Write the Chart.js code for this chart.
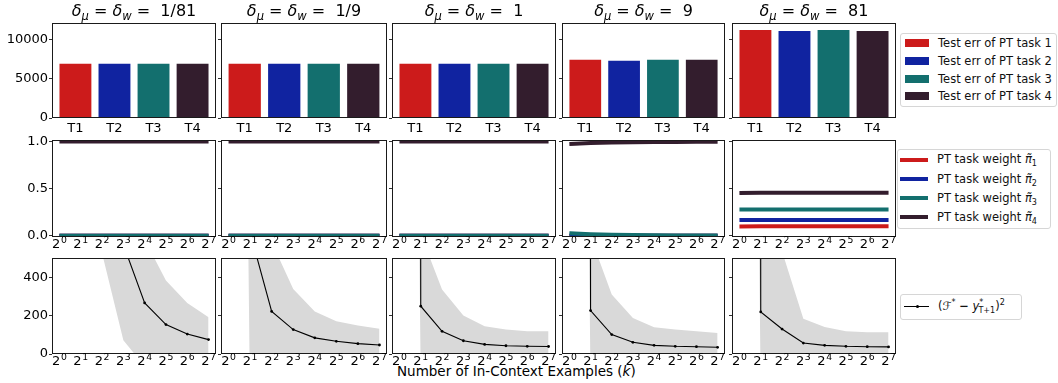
<!DOCTYPE html>
<html>
<head>
<meta charset="utf-8">
<script src="https://cdn.jsdelivr.net/npm/chart.js@4.4.0/dist/chart.umd.min.js"></script>
<style>
html,body{margin:0;padding:0;background:#fff;width:1058px;height:383px;overflow:hidden;font-family:"DejaVu Sans",sans-serif;color:#111;}
#wrap{position:relative;width:1058px;height:383px;}
#wrap canvas{position:absolute;}
.lg{position:absolute;background:rgba(255,255,255,0.85);border:1px solid #d6d6d6;border-radius:3px;}
.it{position:absolute;white-space:nowrap;line-height:14px;height:14px;}
.patch{position:absolute;height:8px;width:24px;}
.ln{position:absolute;height:4px;width:28px;}
sub,sup{font-size:70%;line-height:0;}
#xlabel{position:absolute;left:397px;top:363px;font-size:13.5px;line-height:16px;white-space:nowrap;color:#000;}
</style>
</head>
<body>
<div id="wrap">
  <div class="lg" style="left:900px;top:33px;width:155px;height:72px;font-size:11.5px;">
    <div class="patch" style="left:4px;top:5px;background:#CC1B1B"></div><div class="it" style="left:37px;top:2px">Test err of PT task 1</div>
    <div class="patch" style="left:4px;top:23px;background:#1023A0"></div><div class="it" style="left:37px;top:20px">Test err of PT task 2</div>
    <div class="patch" style="left:4px;top:40.5px;background:#136F6E"></div><div class="it" style="left:37px;top:37.5px">Test err of PT task 3</div>
    <div class="patch" style="left:4px;top:58px;background:#331D2D"></div><div class="it" style="left:37px;top:55px">Test err of PT task 4</div>
  </div>
  <div class="lg" style="left:897px;top:149px;width:152px;height:78px;font-size:11.5px;">
    <div class="ln" style="left:2px;top:7.5px;background:#CC1B1B"></div><div class="it" style="left:39px;top:2px">PT task weight <i>π̃</i><sub>1</sub></div>
    <div class="ln" style="left:2px;top:27px;background:#1023A0"></div><div class="it" style="left:39px;top:21.5px">PT task weight <i>π̃</i><sub>2</sub></div>
    <div class="ln" style="left:2px;top:46px;background:#136F6E"></div><div class="it" style="left:39px;top:40.5px">PT task weight <i>π̃</i><sub>3</sub></div>
    <div class="ln" style="left:2px;top:65px;background:#331D2D"></div><div class="it" style="left:39px;top:59.5px">PT task weight <i>π̃</i><sub>4</sub></div>
  </div>
  <div class="lg" style="left:900px;top:294px;width:120px;height:24px;font-size:11.5px;">
    <div style="position:absolute;left:3px;top:10.5px;width:25px;height:1px;background:#000"></div>
    <div style="position:absolute;left:14.5px;top:9.5px;width:3px;height:3px;border-radius:50%;background:#000"></div>
    <div class="it" style="left:37px;top:4px">(<i>ℱ</i><sup>*</sup> <b>−</b> <i>y</i><sup>*</sup><sub style="margin-left:-5px">T+1</sub>)<sup>2</sup></div>
  </div>
  <div id="xlabel">Number of In-Context Examples (<i>k</i>)</div>
</div>
<script>
// ---------------- data ----------------
const deltaLabels = ['1/81', '1/9', '1', '9', '81'];
const taskLabels = ['T1', 'T2', 'T3', 'T4'];
const kExponents = [0, 1, 2, 3, 4, 5, 6, 7];
const kTickBase = '2';
const kTickExps = ['0', '1', '2', '3', '4', '5', '6', '7'];
const errTicks = [0, 5000, 10000];
const weightTicks = [0, 0.5, 1];
const sqErrTicks = [0, 200, 400];

// row 1: test error of PT tasks (T1..T4)
const testErr_1_81 = [6870, 6870, 6870, 6870];
const testErr_1_9  = [6870, 6870, 6870, 6870];
const testErr_1    = [6870, 6870, 6870, 6870];
const testErr_9    = [7380, 7250, 7380, 7370];
const testErr_81   = [11180, 11050, 11180, 11050];

// row 2: PT task weights vs k
const wT1_1_81 = [0, 0, 0, 0, 0, 0, 0, 0];
const wT2_1_81 = [0, 0, 0, 0, 0, 0, 0, 0];
const wT3_1_81 = [0, 0, 0, 0, 0, 0, 0, 0];
const wT4_1_81 = [1, 1, 1, 1, 1, 1, 1, 1];
const wT1_1_9 = [0, 0, 0, 0, 0, 0, 0, 0];
const wT2_1_9 = [0, 0, 0, 0, 0, 0, 0, 0];
const wT3_1_9 = [0, 0, 0, 0, 0, 0, 0, 0];
const wT4_1_9 = [1, 1, 1, 1, 1, 1, 1, 1];
const wT1_1 = [0, 0, 0, 0, 0, 0, 0, 0];
const wT2_1 = [0, 0, 0, 0, 0, 0, 0, 0];
const wT3_1 = [0, 0, 0, 0, 0, 0, 0, 0];
const wT4_1 = [1, 1, 1, 1, 1, 1, 1, 1];
const wT1_9 = [0, 0, 0, 0, 0, 0, 0, 0];
const wT2_9 = [0, 0, 0, 0, 0, 0, 0, 0];
const wT3_9 = [0.027, 0.018, 0.012, 0.009, 0.007, 0.005, 0.004, 0.003];
const wT4_9 = [0.973, 0.982, 0.988, 0.991, 0.993, 0.995, 0.996, 0.997];
const wT3_9_lo = [0.012, 0.008, 0.005, 0.004, 0.003, 0.002, 0.002, 0.001];
const wT3_9_hi = [0.045, 0.030, 0.020, 0.015, 0.011, 0.008, 0.006, 0.005];
const wT4_9_lo = [0.955, 0.970, 0.980, 0.985, 0.989, 0.992, 0.994, 0.995];
const wT4_9_hi = [0.988, 0.992, 0.995, 0.996, 0.997, 0.998, 0.998, 0.999];
const wT1_81 = [0.100, 0.101, 0.101, 0.101, 0.101, 0.101, 0.101, 0.101];
const wT2_81 = [0.168, 0.168, 0.168, 0.168, 0.168, 0.168, 0.168, 0.168];
const wT3_81 = [0.278, 0.278, 0.278, 0.278, 0.278, 0.278, 0.278, 0.278];
const wT4_81 = [0.455, 0.457, 0.457, 0.457, 0.457, 0.457, 0.457, 0.457];
const wT4_81_lo = [0.440, 0.450, 0.454, 0.455, 0.456, 0.456, 0.456, 0.456];
const wT4_81_hi = [0.470, 0.464, 0.460, 0.459, 0.458, 0.458, 0.458, 0.458];

// row 3: (F* - y*_{T+1})^2 mean and band vs k
const sqMean_1_81  = [100000, 20000, 3000, 570, 266, 153, 104, 75];
const sqUpper_1_81 = [200000, 40000, 6000, 1070, 596, 383, 266, 191];
const sqLower_1_81 = [50000, 10000, 525, 71, -64, -77, -58, -41];
const sqMean_1_9  = [100000, 633, 222, 127, 84, 66, 54, 47];
const sqUpper_1_9 = [200000, 1500, 583, 339, 222, 170, 148, 132];
const sqLower_1_9 = [10000, -300, -140, -85, -55, -38, -40, -38];
const sqMean_1  = [100000, 249, 118, 69, 50, 43, 40, 39];
const sqUpper_1 = [200000, 624, 336, 200, 144, 127, 118, 118];
const sqLower_1 = [10000, -130, -100, -62, -44, -41, -38, -40];
const sqMean_9  = [100000, 226, 101, 61, 45, 40, 38, 35];
const sqUpper_9 = [200000, 611, 310, 188, 139, 127, 118, 110];
const sqLower_9 = [10000, -160, -108, -66, -49, -47, -42, -40];
const sqMean_81  = [100000, 219, 130, 57, 45, 40, 38, 37];
const sqUpper_81 = [200000, 700, 535, 184, 141, 118, 113, 113];
const sqLower_81 = [10000, -200, -150, -70, -50, -45, -40, -40];

// ---------------- tables built from the arrays ----------------
const testErrByDelta = [testErr_1_81, testErr_1_9, testErr_1, testErr_9, testErr_81];
const weightsByDelta = [
  [wT1_1_81, wT2_1_81, wT3_1_81, wT4_1_81],
  [wT1_1_9, wT2_1_9, wT3_1_9, wT4_1_9],
  [wT1_1, wT2_1, wT3_1, wT4_1],
  [wT1_9, wT2_9, wT3_9, wT4_9],
  [wT1_81, wT2_81, wT3_81, wT4_81]
];
// bands: [delta index, task index, lo, hi]
const weightBands = [
  [3, 2, wT3_9_lo, wT3_9_hi],
  [3, 3, wT4_9_lo, wT4_9_hi],
  [4, 3, wT4_81_lo, wT4_81_hi]
];
const sqByDelta = [
  [sqMean_1_81, sqUpper_1_81, sqLower_1_81],
  [sqMean_1_9, sqUpper_1_9, sqLower_1_9],
  [sqMean_1, sqUpper_1, sqLower_1],
  [sqMean_9, sqUpper_9, sqLower_9],
  [sqMean_81, sqUpper_81, sqLower_81]
];

// ---------------- styles / layout ----------------
const taskColors = ['#CC1B1B', '#1023A0', '#136F6E', '#331D2D'];
const taskBandColors = ['rgba(204,27,27,0.22)', 'rgba(16,35,160,0.22)', 'rgba(19,111,110,0.25)', 'rgba(51,29,45,0.25)'];
const colLefts = [52, 221, 392, 562, 732];
const colWidths = [164, 166, 164, 163, 164];
const rowTops = [23, 140, 258];
const rowHeights = [95, 97, 96];
const PAD_L = 50, PAD_T = 24, PAD_R = 6, PAD_B = 22;

Chart.defaults.font.family = '"DejaVu Sans", sans-serif';
Chart.defaults.color = '#000';

const wrap = document.getElementById('wrap');
function makeCanvas(r, c) {
  const cv = document.createElement('canvas');
  const w = colWidths[c] + PAD_L + PAD_R, h = rowHeights[r] + PAD_T + PAD_B;
  cv.width = w; cv.height = h;
  cv.style.left = (colLefts[c] - PAD_L) + 'px';
  cv.style.top = (rowTops[r] - PAD_T) + 'px';
  cv.style.width = w + 'px'; cv.style.height = h + 'px';
  wrap.appendChild(cv);
  return cv;
}

const framePlugin = {
  id: 'frame',
  afterDraw(chart) {
    const a = chart.chartArea, ctx = chart.ctx;
    ctx.save();
    ctx.strokeStyle = '#1a1a1a';
    ctx.lineWidth = 1;
    ctx.strokeRect(a.left + 0.5, a.top + 0.5, a.right - a.left - 1, a.bottom - a.top - 1);
    ctx.restore();
  }
};

// k-axis tick labels drawn as "2" with a raised exponent (like mathtext 2^n)
const kTickPlugin = {
  id: 'kTicks',
  afterDraw(chart) {
    const ctx = chart.ctx, xs = chart.scales.x, a = chart.chartArea;
    ctx.save();
    ctx.fillStyle = '#000'; ctx.textAlign = 'left'; ctx.textBaseline = 'alphabetic';
    kExponents.forEach((v, i) => {
      ctx.font = '13px "DejaVu Sans"';
      const wb = ctx.measureText(kTickBase).width;
      ctx.font = '9.3px "DejaVu Sans"';
      const we = ctx.measureText(kTickExps[i]).width;
      const x0 = xs.getPixelForValue(v) - (wb + we + 0.6) / 2;
      const y = a.bottom + 11;
      ctx.font = '13px "DejaVu Sans"';
      ctx.fillText(kTickBase, x0, y);
      ctx.font = '9.3px "DejaVu Sans"';
      ctx.fillText(kTickExps[i], x0 + wb + 0.6, y - 5.3);
    });
    ctx.restore();
  }
};

function titlePlugin(label) {
  return {
    id: 'mathTitle',
    afterDraw(chart) {
      const ctx = chart.ctx, a = chart.chartArea;
      const big = '16px "DejaVu Sans"', bigI = 'italic 16px "DejaVu Sans"', smI = 'italic 11.5px "DejaVu Sans"';
      const parts = [['δ', bigI, 0], ['μ', smI, 3.5], [' = ', big, 0], ['δ', bigI, 0], ['w', smI, 3.5], [' =  ' + label, big, 0]];
      ctx.save();
      let tot = 0;
      parts.forEach(p => { ctx.font = p[1]; tot += ctx.measureText(p[0]).width; });
      let x = (a.left + a.right) / 2 - tot / 2;
      const y = a.top - 7;
      ctx.fillStyle = '#000'; ctx.textAlign = 'left'; ctx.textBaseline = 'alphabetic';
      parts.forEach(p => { ctx.font = p[1]; ctx.fillText(p[0], x, y + p[2]); x += ctx.measureText(p[0]).width; });
      ctx.restore();
    }
  };
}

function yScale(c, min, max, ticks, fmt) {
  return {
    type: 'linear', min, max,
    afterBuildTicks: s => { s.ticks = ticks.map(v => ({ value: v })); },
    ticks: { display: c === 0, font: { size: 13 }, color: '#000', padding: 1, callback: v => fmt(v) },
    grid: { display: true, drawOnChartArea: false, drawTicks: true, tickLength: 3, color: '#333', lineWidth: 1 },
    border: { display: false },
    afterFit: s => { s.width = PAD_L; s.paddingTop = 0; s.paddingBottom = 0; }
  };
}
function kScale() {
  return {
    type: 'linear', min: -0.35, max: 7.35, offset: false,
    afterBuildTicks: s => { s.ticks = kExponents.map(v => ({ value: v })); },
    ticks: { display: false },
    grid: { display: false, drawTicks: false },
    border: { display: false },
    afterFit: s => { s.height = PAD_B; s.paddingLeft = 0; s.paddingRight = 0; }
  };
}
const baseOpts = {
  responsive: false, animation: false, events: [],
  layout: { padding: { left: 0, top: PAD_T, right: PAD_R, bottom: 0 } },
  plugins: { legend: { display: false }, tooltip: { enabled: false }, title: { display: false } }
};
function pts(arr) { return kExponents.map((x, i) => ({ x, y: arr[i] })); }

// ---------------- row 1: bars ----------------
deltaLabels.forEach((d, c) => {
  const vals = testErrByDelta[c];
  new Chart(makeCanvas(0, c), {
    type: 'bar',
    data: { datasets: [{
      data: taskLabels.map((t, i) => ({ x: i, y: vals[i] })),
      backgroundColor: taskColors, borderWidth: 0,
      barThickness: 0.8 * colWidths[c] / 4.2
    }] },
    options: Object.assign({}, baseOpts, {
      scales: {
        x: {
          type: 'linear', min: -0.6, max: 3.6, offset: false,
          afterBuildTicks: s => { s.ticks = taskLabels.map((t, i) => ({ value: i })); },
          ticks: { autoSkip: false, maxRotation: 0, font: { size: 13 }, color: '#000', padding: 3, callback: v => taskLabels[v] },
          grid: { display: false, drawTicks: false }, border: { display: false },
          afterFit: s => { s.height = PAD_B; s.paddingLeft = 0; s.paddingRight = 0; }
        },
        y: yScale(c, 0, 12100, errTicks, v => String(v))
      }
    }),
    plugins: [framePlugin, titlePlugin(d)]
  });
});

// ---------------- row 2: task weights ----------------
deltaLabels.forEach((d, c) => {
  const ds = [];
  weightBands.filter(b => b[0] === c).forEach(b => {
    ds.push({ data: pts(b[3]), borderWidth: 0, pointRadius: 0, fill: '+1', backgroundColor: taskBandColors[b[1]], order: 20, clip: 0 });
    ds.push({ data: pts(b[2]), borderWidth: 0, pointRadius: 0, fill: false, order: 21, clip: 0 });
  });
  weightsByDelta[c].forEach((w, t) => {
    ds.push({ data: pts(w), borderColor: taskColors[t], borderWidth: 4, pointRadius: 0, fill: false, tension: 0, order: 4 - t, clip: 0 });
  });
  new Chart(makeCanvas(1, c), {
    type: 'line',
    data: { datasets: ds },
    options: Object.assign({}, baseOpts, {
      scales: { x: kScale(), y: yScale(c, -0.012, 1.015, weightTicks, v => v.toFixed(1)) }
    }),
    plugins: [framePlugin, kTickPlugin]
  });
});

// ---------------- row 3: squared error ----------------
deltaLabels.forEach((d, c) => {
  const [mean, upper, lower] = sqByDelta[c];
  new Chart(makeCanvas(2, c), {
    type: 'line',
    data: { datasets: [
      { data: pts(mean), borderColor: '#000', borderWidth: 1.1, pointRadius: 1.4, pointBackgroundColor: '#000', pointBorderWidth: 0, fill: false, tension: 0, order: 0, clip: 0 },
      { data: pts(upper), borderWidth: 0, pointRadius: 0, fill: '+1', backgroundColor: '#D9D9D9', order: 5, clip: 0 },
      { data: pts(lower), borderWidth: 0, pointRadius: 0, fill: false, order: 6, clip: 0 }
    ] },
    options: Object.assign({}, baseOpts, {
      scales: { x: kScale(), y: yScale(c, 0, 500, sqErrTicks, v => String(v)) }
    }),
    plugins: [framePlugin, kTickPlugin]
  });
});
</script>
</body>
</html>
